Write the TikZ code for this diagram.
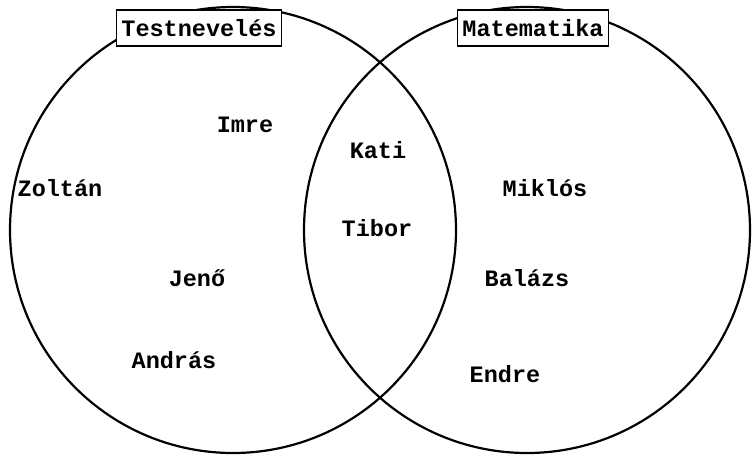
\documentclass[tikz,border=0pt]{standalone}
\usepackage{fontspec}
\setmonofont{Liberation Mono}
\usetikzlibrary{positioning}
\tikzset{
  halmaz/.style={draw=black,line width=2.2pt},
  cimke/.style={draw=black,line width=1.6pt,fill=white,inner xsep=5pt,minimum height=36pt,font=\ttfamily\bfseries\fontsize{23.5}{24}\selectfont},
  nev/.style={font=\ttfamily\bfseries\fontsize{23.5}{24}\selectfont,inner sep=1pt},
}
\begin{document}
\begin{tikzpicture}[x=1pt,y=-1pt]
\useasboundingbox (0,0) rectangle (753,459);
% the two sets
\draw[halmaz] (233,230) circle [radius=223pt];
\draw[halmaz] (527,230) circle [radius=223pt];
\node[cimke] (tesi) at (199,28) {Testnevelés};
\node[cimke] (mate) at (533,28) {Matematika};
% members
\foreach \n/\x/\y/\t in {imre/245/125/Imre,kati/378/150/Kati,zoltan/60/188/Zoltán,miklos/545/188/Miklós,tibor/377/228/Tibor,jeno/197/278/Jenő,balazs/527/278/Balázs,andras/174/360/András,endre/505/374/Endre}{
  \node[nev] (\n) at (\x,\y) {\t};}
\end{tikzpicture}
\end{document}
